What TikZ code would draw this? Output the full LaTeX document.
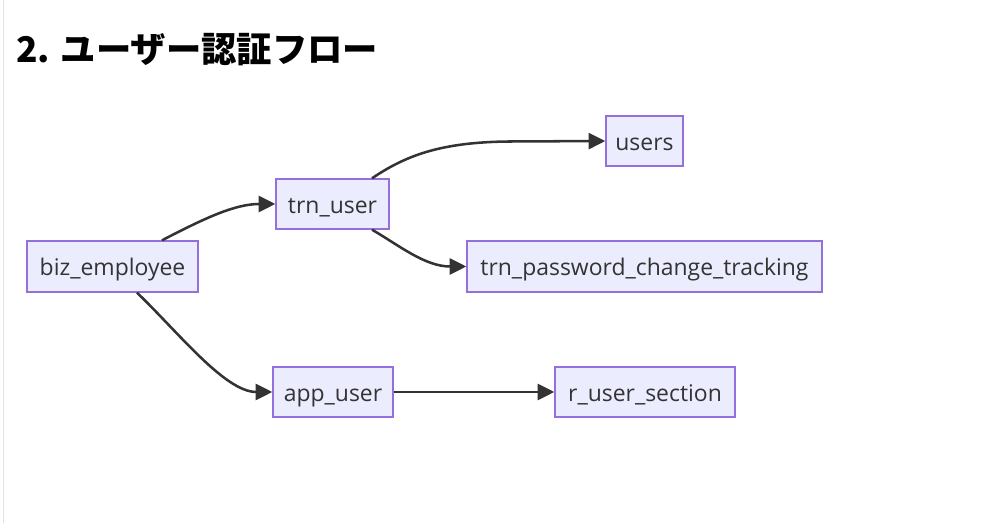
\documentclass[tikz,border=0pt]{standalone}
\usepackage{fontspec}
\setsansfont{Open Sans}
\newfontfamily\cjk{Noto Sans CJK JP}
\usetikzlibrary{arrows.meta}
\definecolor{nodefill}{HTML}{ECECFF}
\definecolor{nodeline}{HTML}{9370DB}
\definecolor{txt}{HTML}{333333}
\definecolor{edge}{HTML}{333333}
\definecolor{rule}{HTML}{E3E3E3}
\tikzset{
  box/.style={draw=nodeline, fill=nodefill, line width=1pt, inner sep=0pt,
    font=\sffamily\fontsize{17.2}{20}\selectfont, text=txt, anchor=center,
    text height=13.8pt, text depth=0pt},
  link/.style={draw=edge, line width=1.9pt,
    -{Triangle[length=12.5pt,width=12pt]}},
}
\begin{document}
\begin{tikzpicture}[x=0.75pt,y=-0.75pt]
\useasboundingbox (0,0) rectangle (1004,523);
\fill[white] (0,0) rectangle (1004,523);
\draw[rule, line width=1.2pt] (3.5,0) -- (3.5,523);
\node[anchor=base west, font=\cjk\bfseries\fontsize{26.5}{30}\selectfont, inner sep=0pt] (title) at (16,63) {2. ユーザー認証フロー};

\node[box, minimum width=128.25pt, minimum height=38.25pt] (biz) at (112.5,266.5) {biz\_employee};
\node[box, minimum width=84.75pt, minimum height=37.5pt] (trn) at (332.5,204) {trn\_user};
\node[box, minimum width=57.75pt, minimum height=37.5pt] (users) at (644.5,141) {users};
\node[box, minimum width=266.25pt, minimum height=38.25pt] (pwd) at (644.5,266.5) {trn\_password\_change\_tracking};
\node[box, minimum width=90pt, minimum height=37.5pt] (app) at (333,392) {app\_user};
\node[box, minimum width=135pt, minimum height=37.5pt] (sec) at (645,392) {r\_user\_section};

\draw[link] (biz.north -| 162,0) .. controls (205,218) and (235,204) .. (trn.west);
\draw[link] (biz.south -| 137,0) .. controls (178,332) and (225,392) .. (app.west);
\draw[link] (trn.north -| 372,0) .. controls (405,156) and (440,142) .. (510,141.5) -- (users.west);
\draw[link] (trn.south -| 372,0) .. controls (400,246) and (425,266.5) .. (pwd.west);
\draw[link] (app.east) -- (sec.west);
\end{tikzpicture}
\end{document}
